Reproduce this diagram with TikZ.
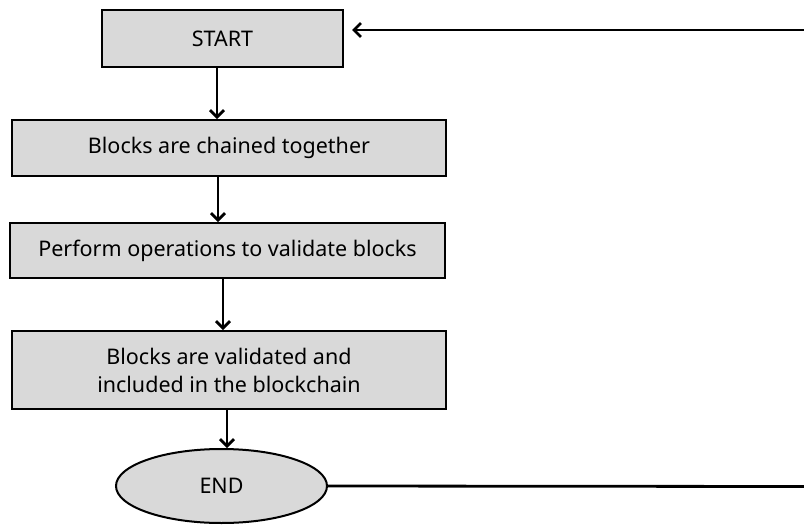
\documentclass[tikz,border=0pt]{standalone}
\usepackage{fontspec}
\setmainfont{Noto Sans}
\usetikzlibrary{arrows.meta,shapes.geometric}
\definecolor{boxgray}{HTML}{D9D9D9}
\tikzset{
  stepbox/.style={draw=black, line width=2pt, fill=boxgray, rectangle, inner sep=0pt, align=center, font=\fontsize{21.5}{28}\selectfont},
  endbox/.style={draw=black, line width=2pt, fill=boxgray, ellipse, inner sep=0pt, font=\fontsize{21.5}{28}\selectfont},
  arr/.style={line width=2.8pt, -{Straight Barb[length=7pt,width=14pt,line width=2.8pt]}},
  plain/.style={line width=2.8pt}
}
\begin{document}
\begin{tikzpicture}[x=1pt,y=-1pt]
\useasboundingbox (0,0) rectangle (804,525);
\node[stepbox, minimum width=241pt, minimum height=57pt] (start) at (222.5,38.5) {START};
\node[stepbox, minimum width=434pt, minimum height=56pt] (chain) at (229,148) {Blocks are chained together};
\node[stepbox, minimum width=435pt, minimum height=55pt] (perform) at (227.5,250.5) {Perform operations to validate blocks};
\node[stepbox, minimum width=434pt, minimum height=78pt] (valid) at (229,370) {Blocks are validated and\\included in the blockchain};
\node[endbox, minimum width=211pt, minimum height=74pt] (end) at (221.5,486) {END};
\coordinate (r1) at (804,30);
\coordinate (r2) at (804,486.5);
\draw[arr] ([xshift=-5.5pt]start.south) -- ([xshift=-5.5pt]start.south |- chain.north);
\draw[arr] ([xshift=-11pt]chain.south) -- ([xshift=-11pt]chain.south |- perform.north);
\draw[arr] ([xshift=-4.5pt]perform.south) -- ([xshift=-4.5pt]perform.south |- valid.north);
\draw[arr] ([xshift=-2pt]valid.south) -- ([xshift=-2pt]valid.south |- end.north);
\draw[arr] (r1) -- ([xshift=8pt]start.east |- r1);
\draw[plain] (end.east) -- (r2);
\end{tikzpicture}
\end{document}
